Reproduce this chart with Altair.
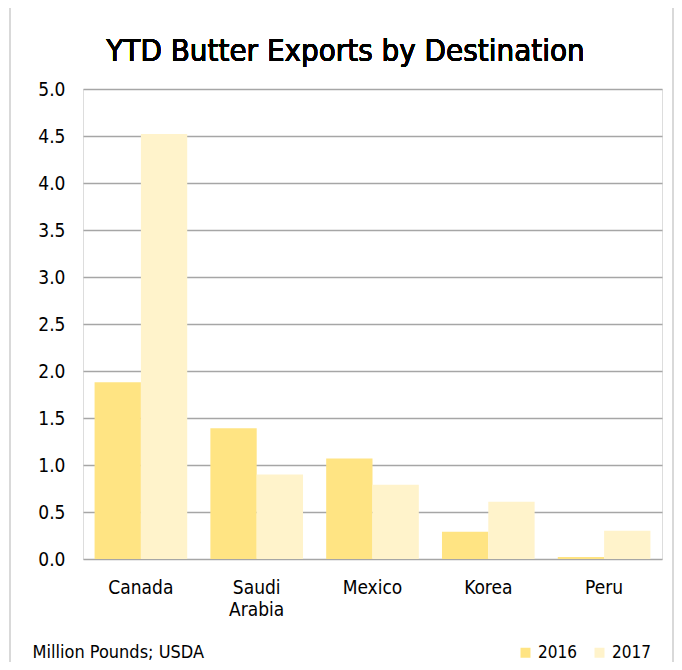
import altair as alt
import pandas as pd

countries = ["Canada", "Saudi Arabia", "Mexico", "Korea", "Peru"]
years = ["2016", "2017"]
values_2016 = [1.88, 1.39, 1.07, 0.29, 0.02]
values_2017 = [4.52, 0.90, 0.79, 0.61, 0.30]
y_ticks = [0, 0.5, 1.0, 1.5, 2.0, 2.5, 3.0, 3.5, 4.0, 4.5, 5.0]
colors = ["#FFE483", "#FFF3CB"]
title_text = "YTD Butter Exports by Destination"

rows = []
for c, a, b in zip(countries, values_2016, values_2017):
    rows.append({"country": c, "year": "2016", "value": a})
    rows.append({"country": c, "year": "2017", "value": b})
df = pd.DataFrame(rows)

FONT = "DejaVu Sans Condensed"

bars = alt.Chart(df).mark_bar().encode(
    x=alt.X("country:N", sort=countries,
            scale=alt.Scale(paddingInner=0.2, paddingOuter=0.1),
            axis=alt.Axis(title="Million Pounds; USDA", labelAngle=0, domain=False, ticks=False,
                          labelExpr="split(datum.label, ' ')", labelPadding=19,
                          labelLineHeight=22,
                          labelFontSize=19, labelColor="#000000", labelFont=FONT,
                          titleFont=FONT, titleFontSize=18, titleFontWeight="normal",
                          titleColor="#000000", titleAnchor="start", titleAlign="left",
                          titleBaseline="middle", titleX=-51, titleY=93)),
    xOffset=alt.XOffset("year:N", sort=years, scale=alt.Scale(paddingInner=0, paddingOuter=0)),
    y=alt.Y("value:Q", scale=alt.Scale(domain=[0, 5]),
            axis=alt.Axis(title=None, values=y_ticks, format=".1f", domain=False, ticks=False,
                          labelPadding=18, labelFontSize=19, labelColor="#000000", labelFont=FONT,
                          gridColor="#A6A6A6", gridWidth=1.5)),
    color=alt.Color("year:N", sort=years, scale=alt.Scale(domain=years, range=colors),
                    legend=alt.Legend(title=None, orient="none", direction="horizontal",
                                      legendX=434, legendY=555, symbolType="square",
                                      symbolSize=100, symbolStrokeWidth=0, labelFontSize=17,
                                      labelFont=FONT, labelColor="#000000", columnPadding=14,
                                      labelOffset=4)),
)

border = alt.Chart(df).mark_rect(filled=False, stroke="#D9D9D9", strokeWidth=1.5).encode(
    x=alt.value(-73), x2=alt.value(590), y=alt.value(-82), y2=alt.value(600)
)

title = alt.Chart(df).mark_text(
    text=title_text, font=FONT, fontSize=31, color="#000000",
    align="center", baseline="alphabetic"
).encode(x=alt.value(262.5), y=alt.value(-28.5))

chart = alt.layer(border, bars, title).properties(
    width=579, height=470,
    autosize=alt.AutoSizeParams(type="none"),
    padding={"left": 75, "top": 81, "right": 12, "bottom": 103},
).configure_view(stroke=None).configure(background="white")

chart.save("out.html", embed_options={"renderer": "svg", "actions": False})
